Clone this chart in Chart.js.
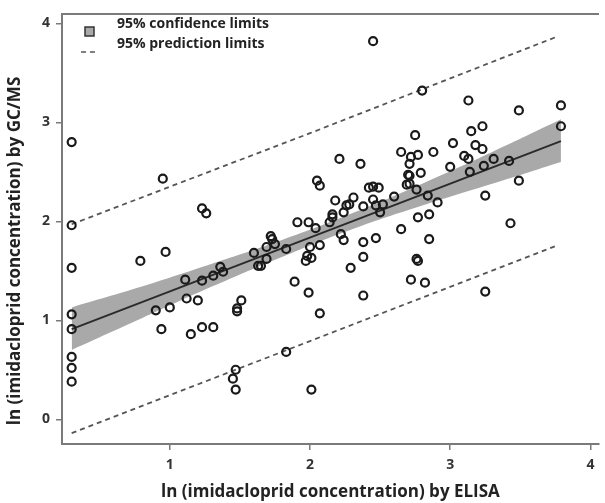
<!DOCTYPE html>
<html>
<head>
<meta charset="utf-8">
<script src="https://cdn.jsdelivr.net/npm/chart.js@4.4.1/dist/chart.umd.min.js"></script>
<style>
  body { margin: 0; background: #fff; }
</style>
</head>
<body>
<canvas id="chart" width="605" height="503"></canvas>
<script>
// Scatter: ln concentration by ELISA (x) vs by GC/MS (y)
const elisaX = [
  0.30, 0.30, 0.30, 0.30, 0.30, 0.30, 0.30, 0.30,
  0.95, 1.23, 1.26, 0.79, 0.97, 0.90, 1.00, 0.94, 1.11, 1.12, 1.20, 1.15,
  1.23, 1.23, 1.31, 1.31, 1.36, 1.38, 1.47, 1.45, 1.47, 1.51, 1.48, 1.48,
  1.83, 2.01, 1.89, 1.99, 2.07, 1.60, 1.69, 1.72, 1.73, 1.75, 1.63, 1.65,
  1.69, 1.83, 2.00, 2.07, 1.98, 2.01, 1.97, 1.91, 1.99, 2.04, 2.22, 2.24,
  2.38, 2.47, 2.38, 2.29, 2.38, 2.65, 2.72, 2.76, 2.77,
  2.18, 2.31, 2.26, 2.28, 2.24, 2.38, 2.16, 2.16, 2.14, 2.21, 2.36, 2.05,
  2.07, 2.45, 2.65, 2.72, 2.77, 2.71, 2.70, 2.71, 2.71, 2.69, 2.42, 2.45,
  2.49, 2.60, 2.45, 2.47, 2.52, 2.50, 2.75,
  3.13, 3.23, 3.15, 3.02, 3.18, 3.23, 2.88, 3.10, 3.13, 3.00, 3.24, 2.79,
  3.14, 2.76, 2.84, 2.91, 3.25,
  2.80, 3.49, 3.79, 3.79, 3.31, 3.42, 3.49, 2.77, 2.85, 3.43, 2.85, 2.82, 3.25
];
const gcmsY = [
  2.80, 1.96, 1.53, 1.06, 0.91, 0.63, 0.52, 0.38,
  2.43, 2.13, 2.08, 1.60, 1.69, 1.10, 1.13, 0.91, 1.41, 1.22, 1.20, 0.86,
  1.40, 0.93, 1.45, 0.93, 1.54, 1.49, 0.50, 0.41, 0.30, 1.20, 1.12, 1.09,
  0.68, 0.30, 1.39, 1.28, 1.07, 1.68, 1.74, 1.85, 1.82, 1.77, 1.55, 1.55,
  1.62, 1.72, 1.74, 1.76, 1.65, 1.63, 1.60, 1.99, 1.99, 1.93, 1.87, 1.81,
  1.79, 1.83, 1.64, 1.53, 1.25, 1.92, 1.41, 1.62, 1.60,
  2.21, 2.24, 2.16, 2.17, 2.09, 2.15, 2.07, 2.04, 1.99, 2.63, 2.58, 2.41,
  2.36, 3.82, 2.70, 2.65, 2.67, 2.58, 2.47, 2.46, 2.38, 2.37, 2.34, 2.35,
  2.34, 2.25, 2.22, 2.16, 2.17, 2.09, 2.87,
  3.22, 2.96, 2.91, 2.79, 2.77, 2.73, 2.70, 2.66, 2.63, 2.55, 2.56, 2.49,
  2.50, 2.32, 2.26, 2.19, 2.26,
  3.32, 3.12, 3.17, 2.96, 2.63, 2.61, 2.41, 2.04, 2.07, 1.98, 1.82, 1.38, 1.29
];

// regression line
const fitX = [0.30, 3.79];
const fitY = [0.91, 2.81];

// 95% confidence band
const bandX = [0.30, 0.80, 1.30, 1.80, 2.30, 2.80, 3.30, 3.79];
const bandUpper = [1.13, 1.34, 1.57, 1.81, 2.08, 2.38, 2.70, 3.03];
const bandLower = [0.70, 1.02, 1.34, 1.64, 1.92, 2.16, 2.38, 2.60];

// 95% prediction limits
const predX = [0.30, 2.00, 3.77];
const predUpper = [1.97, 2.89, 3.87];
const predLower = [-0.14, 0.79, 1.76];

const xTicks = [1, 2, 3, 4];
const yTicks = [0, 1, 2, 3, 4];

const FONT = '"Open Sans", Lato, sans-serif';
const AXIS_GREY = '#7a7a7a';

const zip = (xs, ys) => xs.map((x, i) => ({ x: x, y: ys[i] }));

// legend inside the plot (top-left) and the y title, placed like the original
const annotations = {
  id: 'annotations',
  afterDraw(chart) {
    const ctx = chart.ctx;
    const a = chart.chartArea;
    ctx.save();
    // grey square
    ctx.fillStyle = '#a9a9a9';
    ctx.strokeStyle = '#333';
    ctx.lineWidth = 1.5;
    ctx.fillRect(a.left + 23, 27, 9, 9);
    ctx.strokeRect(a.left + 23, 27, 9, 9);
    // dashes
    ctx.strokeStyle = '#555';
    ctx.lineWidth = 1.5;
    ctx.setLineDash([5, 4]);
    ctx.beginPath();
    ctx.moveTo(a.left + 19, 52);
    ctx.lineTo(a.left + 37, 52);
    ctx.stroke();
    ctx.setLineDash([]);
    ctx.fillStyle = '#222';
    ctx.font = 'bold 14px ' + FONT;
    ctx.textBaseline = 'alphabetic';
    ctx.fillText('95% confidence limits', a.left + 55, 28);
    ctx.fillText('95% prediction limits', a.left + 55, 48);

    // y axis title
    ctx.translate(15, 251);
    ctx.rotate(-Math.PI / 2);
    ctx.textAlign = 'center';
    ctx.textBaseline = 'middle';
    ctx.font = 'bold 17px ' + FONT;
    ctx.fillText('ln (imidacloprid concentration) by GC/MS', 0, 0);
    ctx.restore();
  }
};

new Chart(document.getElementById('chart'), {
  type: 'scatter',
  data: {
    datasets: [
      {
        label: 'observations',
        data: zip(elisaX, gcmsY),
        pointStyle: 'circle',
        pointRadius: 4,
        pointBorderWidth: 2.2,
        pointBorderColor: '#1a1a1a',
        pointBackgroundColor: 'rgba(0,0,0,0)',
        showLine: false,
        order: 0
      },
      {
        label: 'fit',
        data: zip(fitX, fitY),
        showLine: true,
        borderColor: '#2b2b2b',
        borderWidth: 2,
        pointRadius: 0,
        order: 1
      },
      {
        label: 'band lower',
        data: zip(bandX, bandLower),
        showLine: true,
        borderWidth: 0,
        borderColor: 'rgba(0,0,0,0)',
        pointRadius: 0,
        tension: 0.4,
        order: 4
      },
      {
        label: 'band upper',
        data: zip(bandX, bandUpper),
        showLine: true,
        borderWidth: 0,
        borderColor: 'rgba(0,0,0,0)',
        backgroundColor: '#a9a9a9',
        fill: 2,
        pointRadius: 0,
        tension: 0.4,
        order: 3
      },
      {
        label: 'pred upper',
        data: zip(predX, predUpper),
        showLine: true,
        borderColor: '#555',
        borderWidth: 1.8,
        borderDash: [5, 4],
        pointRadius: 0,
        order: 2
      },
      {
        label: 'pred lower',
        data: zip(predX, predLower),
        showLine: true,
        borderColor: '#555',
        borderWidth: 1.8,
        borderDash: [5, 4],
        pointRadius: 0,
        order: 2
      }
    ]
  },
  options: {
    responsive: false,
    devicePixelRatio: 1,
    animation: false,
    layout: { padding: 0 },
    plugins: {
      legend: { display: false },
      tooltip: { enabled: false }
    },
    scales: {
      x: {
        type: 'linear',
        position: 'bottom',
        min: 0.231,
        max: 4.06,
        afterBuildTicks: (s) => { s.ticks = xTicks.map(v => ({ value: v })); },
        afterFit: (s) => { s.height = 59; },
        grid: { drawOnChartArea: false, color: AXIS_GREY, tickLength: 6, lineWidth: 1.5 },
        border: { color: AXIS_GREY, width: 2 },
        ticks: { color: '#333', padding: 7, font: { family: FONT, size: 14, weight: 'bold' } },
        title: {
          display: true,
          text: 'ln (imidacloprid concentration) by ELISA',
          color: '#222',
          padding: { top: 0, bottom: 1 },
          font: { family: FONT, size: 17, weight: 'bold' }
        }
      },
      xTop: {
        type: 'linear',
        position: 'top',
        min: 0.231,
        max: 4.06,
        afterFit: (s) => { s.height = 9; },
        grid: { display: false },
        border: { color: AXIS_GREY, width: 2 },
        ticks: { display: false }
      },
      y: {
        type: 'linear',
        min: -0.25,
        max: 4.09,
        afterBuildTicks: (s) => { s.ticks = yTicks.map(v => ({ value: v })); },
        afterFit: (s) => { s.width = 62; },
        grid: { drawOnChartArea: false, color: AXIS_GREY, tickLength: 6, lineWidth: 1.5 },
        border: { color: AXIS_GREY, width: 2 },
        ticks: { color: '#333', padding: 6, font: { family: FONT, size: 14, weight: 'bold' } }
      }
    }
  },
  plugins: [annotations]
});
</script>
</body>
</html>
